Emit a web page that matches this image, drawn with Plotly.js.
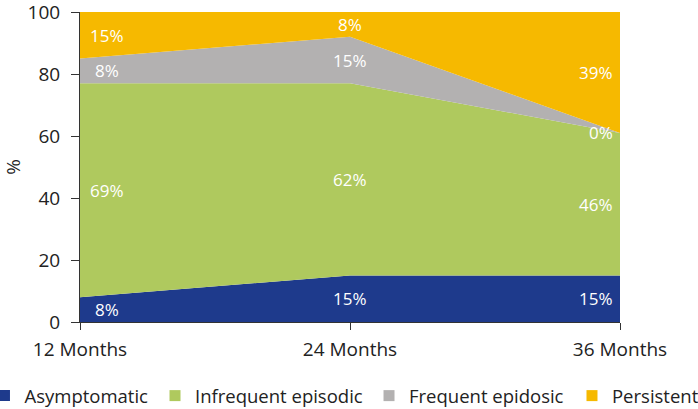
<!DOCTYPE html>
<html>
<head>
<meta charset="utf-8">
<script src="https://cdn.plot.ly/plotly-3.0.1.min.js"></script>
<style>html,body{margin:0;padding:0;background:#fff;}#chart{width:698px;height:409px;}</style>
</head>
<body>
<div id="chart"></div>
<script>
const months = [12, 24, 36];
const monthLabels = ["12 Months", "24 Months", "36 Months"];
const seriesNames = ["Asymptomatic", "Infrequent episodic", "Frequent epidosic", "Persistent"];
const asymptomatic = [8, 15, 15];
const infrequent = [69, 62, 46];
const frequent = [8, 15, 0];
const persistent = [15, 8, 39];
const yTicks = [0, 20, 40, 60, 80, 100];
const colors = ["#1e3a8c", "#afc95e", "#b3b1b1", "#f6b900"];

const series = [asymptomatic, infrequent, frequent, persistent];
const FONT = "Open Sans, sans-serif";
const legendIds = ["legend", "legend2", "legend3", "legend4"];
const legendX = [-0.1769, 0.1389, 0.5352, 0.9111];

const traces = [];
series.forEach((vals, i) => {
  traces.push({
    x: months, y: vals, type: "scatter", mode: "lines",
    stackgroup: "one", fillcolor: colors[i],
    line: {width: 0, color: colors[i]},
    showlegend: false, hoverinfo: "skip"
  });
});
series.forEach((vals, i) => {
  traces.push({
    x: [null], y: [null], type: "scatter", mode: "markers",
    name: seriesNames[i], legend: legendIds[i],
    marker: {symbol: "square", size: 11, color: colors[i]}
  });
});

const annotations = [];
const cum = [0, 0, 0];
series.forEach((vals) => {
  vals.forEach((v, j) => {
    const mid = cum[j] + v / 2;
    cum[j] += v;
    let xanchor = "center", xshift = 0;
    if (j === 0) { xanchor = "center"; xshift = 27; }
    if (j === 2) { xanchor = "right"; xshift = -5; }
    annotations.push({
      x: months[j], y: mid, xref: "x", yref: "y",
      text: v + "%", showarrow: false, xanchor: xanchor, yanchor: "middle",
      xshift: xshift,
      font: {family: FONT, size: 17, color: "#ffffff"}
    });
  });
});

const legendBase = {
  orientation: "h", xanchor: "left", y: -0.239, yanchor: "middle",
  font: {family: FONT, size: 18.5, color: "#222"}, itemwidth: 30,
  bgcolor: "rgba(0,0,0,0)", borderwidth: 0
};

const layout = {
  width: 698, height: 409,
  margin: {l: 80, r: 78, t: 12, b: 87, autoexpand: false},
  paper_bgcolor: "#ffffff", plot_bgcolor: "#ffffff",
  font: {family: FONT, color: "#222222"},
  xaxis: {
    type: "linear", range: [12, 36], tickvals: months, ticktext: monthLabels,
    showgrid: false, zeroline: false, showline: true, linecolor: "#333", linewidth: 1,
    ticks: "outside", ticklen: 7, tickcolor: "#333", ticklabelstandoff: 3,
    ticklabeloverflow: "allow",
    tickfont: {family: FONT, size: 19, color: "#222"}
  },
  yaxis: {
    range: [0, 100], tickvals: yTicks,
    showgrid: false, zeroline: false, showline: true, linecolor: "#333", linewidth: 1,
    ticks: "outside", ticklen: 8, tickcolor: "#333", ticklabelstandoff: 7,
    ticklabeloverflow: "allow",
    tickfont: {family: FONT, size: 19, color: "#222"},
    title: {text: "%", font: {family: FONT, size: 19, color: "#222"}, standoff: 5}
  },
  annotations: annotations,
  showlegend: true
};
legendIds.forEach((id, i) => {
  layout[id] = Object.assign({}, legendBase, {x: legendX[i]});
});

Plotly.newPlot("chart", traces, layout, {displayModeBar: false, staticPlot: true});
</script>
</body>
</html>
